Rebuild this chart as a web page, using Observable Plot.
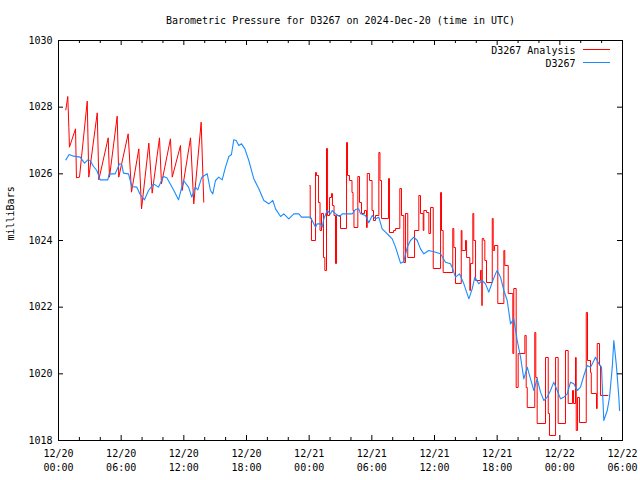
<!DOCTYPE html>
<html><head><meta charset="utf-8">
<script src="https://cdn.jsdelivr.net/npm/d3@7"></script>
<script src="https://cdn.jsdelivr.net/npm/@observablehq/plot@0.6"></script>
<style>body{margin:0;background:#fff}svg{display:block}</style>
</head><body><div id="chart"></div>
<script>
const titleText = "Barometric Pressure for D3267 on 2024-Dec-20 (time in UTC)";
const yLabel = "milliBars";
const seriesNames = ["D3267 Analysis", "D3267"];
const seriesColors = ["#ff0000", "#1a8cff"];
const startUTC = Date.UTC(2024, 11, 20, 0, 0);
const spanHours = 54;
const yTicks = [1018, 1020, 1022, 1024, 1026, 1028, 1030];

// D3267 station observations: hours since 2024-12-20 00:00 UTC, millibars
const stationHours = [0.70,1.02,1.44,2.08,2.49,2.81,3.04,3.35,3.67,3.99,4.72,4.85,5.43,5.84,6.06,6.22,6.70,7.02,7.50,7.82,8.23,8.62,9.10,9.57,10.05,10.37,11.01,11.49,11.97,12.45,12.76,13.09,13.34,13.72,14.24,14.55,14.77,15.03,15.35,15.67,15.99,16.31,16.56,16.78,17.01,17.26,17.52,17.84,18.22,18.70,19.18,19.66,20.14,20.52,20.78,21.26,21.57,22.05,22.53,23.01,23.27,24.13,24.29,24.61,24.77,25.09,25.25,25.40,25.73,26.04,26.21,26.52,26.91,27.16,28.12,28.44,28.75,28.92,29.39,29.71,30.04,30.35,30.67,30.99,31.31,31.63,31.95,32.27,32.75,33.06,33.39,33.70,34.02,34.35,34.66,34.98,35.46,36.10,36.58,37.05,37.53,37.75,38.01,38.39,38.81,39.29,39.61,39.86,40.24,40.57,40.88,41.20,41.53,41.84,42.00,42.32,42.64,42.96,43.28,43.59,43.92,44.24,44.55,44.88,45.19,45.51,45.83,46.15,46.47,46.79,47.11,47.42,47.75,48.07,48.38,48.71,49.02,49.34,49.66,49.98,50.30,50.62,50.94,51.42,51.73,51.99,52.21,52.54,52.76,53.02,53.17,53.40,53.65,53.72];
const stationValues = [1026.42,1026.58,1026.53,1026.50,1026.32,1026.42,1026.40,1026.22,1026.10,1025.82,1025.82,1026.00,1026.00,1026.30,1026.28,1026.02,1026.00,1025.62,1025.60,1025.38,1025.22,1025.50,1025.70,1025.60,1025.92,1025.88,1025.52,1025.22,1025.80,1025.60,1025.30,1025.60,1025.52,1025.90,1026.00,1025.50,1025.40,1025.80,1025.90,1025.82,1026.20,1026.52,1026.58,1027.02,1027.00,1026.85,1026.90,1026.75,1026.40,1025.85,1025.55,1025.20,1025.10,1025.20,1024.95,1024.72,1024.80,1024.65,1024.80,1024.80,1024.70,1024.70,1024.60,1024.40,1024.50,1024.50,1024.40,1024.65,1024.90,1024.80,1024.90,1024.80,1024.72,1024.80,1024.80,1024.93,1024.95,1024.80,1024.75,1024.53,1024.75,1024.65,1024.70,1024.35,1024.25,1024.15,1024.05,1023.80,1023.32,1023.37,1023.80,1024.00,1024.10,1024.00,1023.75,1023.60,1023.70,1023.65,1023.60,1023.35,1023.30,1023.15,1022.90,1023.00,1022.70,1022.25,1022.55,1022.90,1022.70,1022.80,1022.70,1022.45,1022.75,1023.00,1023.10,1022.90,1022.50,1022.20,1021.50,1021.65,1021.00,1020.50,1019.85,1020.20,1019.85,1019.50,1019.85,1019.45,1019.20,1019.30,1019.50,1019.75,1019.50,1019.25,1019.30,1019.40,1019.75,1019.70,1019.50,1019.60,1019.95,1020.25,1020.20,1020.50,1020.30,1020.20,1018.60,1018.90,1019.30,1020.20,1021.00,1020.30,1019.30,1018.90];

// D3267 Analysis, first run (12/20 morning)
const analysisAHours = [0.70,0.89,0.99,1.05,1.63,1.72,2.01,2.75,2.90,3.71,3.86,4.76,4.88,5.62,5.77,6.67,6.99,7.69,7.95,8.65,8.97,9.67,9.86,10.72,10.89,11.68,11.84,12.64,12.95,13.66,13.91];
const analysisAValues = [1027.92,1028.32,1027.40,1026.80,1027.35,1025.88,1025.90,1028.18,1025.90,1027.83,1025.82,1027.08,1025.90,1027.73,1025.90,1027.20,1025.45,1026.75,1024.95,1026.92,1025.42,1027.08,1025.70,1027.05,1025.90,1026.85,1025.50,1027.08,1025.10,1027.55,1025.15];

// D3267 Analysis, second run (12/21 00:00 onwards), held values
const analysisBHours = [24.06,24.10,24.22,24.61,24.70,24.89,25.04,25.18,25.37,25.50,25.66,25.76,25.95,26.14,26.23,26.38,26.52,26.62,27.00,27.58,27.67,27.86,28.10,28.20,28.29,28.66,28.82,29.01,29.30,29.49,29.56,29.78,30.02,30.16,30.35,30.67,30.78,30.93,31.60,31.69,32.08,32.27,32.68,32.84,33.06,33.22,33.44,34.09,34.50,34.66,34.92,34.98,35.24,35.46,35.62,35.88,36.58,36.67,36.83,37.75,37.85,38.01,38.56,38.63,38.97,39.07,39.38,39.45,39.67,39.76,39.93,40.40,40.53,40.57,40.72,40.82,40.98,41.53,41.62,41.75,42.06,42.64,42.73,43.06,43.50,43.59,43.82,44.01,44.65,44.78,44.88,45.60,45.70,45.83,46.63,46.89,47.01,47.59,47.84,48.54,48.80,49.21,49.31,49.50,49.57,49.69,49.88,50.53,50.65,50.94,51.01,51.51,51.58,51.80,51.90,52.63];
const analysisBValues = [1025.65,1024.66,1024.00,1026.04,1025.95,1025.14,1024.30,1024.81,1023.49,1023.10,1026.76,1024.75,1025.29,1025.41,1025.05,1024.75,1023.31,1024.75,1024.36,1026.94,1025.95,1025.80,1025.44,1024.90,1024.39,1025.92,1025.14,1024.81,1024.90,1024.39,1026.01,1025.80,1024.90,1024.60,1024.75,1026.64,1025.80,1024.66,1025.86,1024.24,1024.30,1024.36,1025.56,1024.75,1023.34,1024.81,1023.49,1024.30,1025.35,1024.81,1024.30,1024.90,1024.84,1024.21,1024.99,1023.16,1025.44,1024.30,1023.04,1024.36,1023.79,1022.71,1024.30,1023.70,1024.00,1023.49,1022.50,1023.31,1024.81,1024.00,1022.80,1023.10,1022.05,1024.06,1024.00,1023.40,1022.74,1024.66,1023.70,1023.85,1022.11,1023.70,1023.25,1022.41,1020.61,1022.56,1019.59,1020.61,1021.15,1019.59,1018.99,1021.24,1019.89,1018.51,1020.49,1018.81,1018.15,1020.49,1018.51,1020.70,1019.11,1019.50,1019.11,1020.49,1018.30,1019.29,1018.54,1021.84,1020.40,1020.04,1019.41,1018.96,1020.91,1020.25,1019.35,1019.35];

const toDate = h => new Date(startUTC + h * 3600e3);
const zip = (hs, vs) => hs.map((h, i) => ({t: toDate(h), v: vs[i]}));
const station = zip(stationHours, stationValues);
const analysisA = zip(analysisAHours, analysisAValues);
const analysisB = zip(analysisBHours, analysisBValues);

const x0 = toDate(0), x1 = toDate(spanHours);
const majorX = d3.utcHour.every(6).range(x0, new Date(+x1 + 1));
const minorX = d3.utcHour.every(2).range(x0, new Date(+x1 + 1)).filter(d => d.getUTCHours() % 6 !== 0);
const fmt = d3.utcFormat("%m/%d\n%H:%M");

const W = 640, H = 480, mL = 58, mR = 18, mT = 40, mB = 40;
const fw = W - mL - mR, fh = H - mT - mB;
const major = 5, minor = 3;

const plot = Plot.plot({
  width: W, height: H,
  marginLeft: mL, marginRight: mR, marginTop: mT, marginBottom: mB,
  style: {fontFamily: "'DejaVu Sans Mono', monospace", fontSize: "10px", background: "#fff", overflow: "visible"},
  x: {type: "utc", domain: [x0, x1], axis: null},
  y: {domain: [1018, 1030], axis: null},
  marks: [
    Plot.line(analysisA, {x: "t", y: "v", stroke: seriesColors[0], strokeWidth: 1}),
    Plot.line(analysisB, {x: "t", y: "v", stroke: seriesColors[0], strokeWidth: 1, curve: "step-after"}),
    Plot.line(station, {x: "t", y: "v", stroke: seriesColors[1], strokeWidth: 1.1}),
    Plot.ruleX(majorX, {x: d => d, insetTop: fh - major, stroke: "#000"}),
    Plot.ruleX(majorX, {x: d => d, insetBottom: fh - major, stroke: "#000"}),
    Plot.ruleX(minorX, {x: d => d, insetTop: fh - minor, stroke: "#000"}),
    Plot.ruleX(minorX, {x: d => d, insetBottom: fh - minor, stroke: "#000"}),
    Plot.ruleY(yTicks, {y: d => d, insetRight: fw - major, stroke: "#000"}),
    Plot.ruleY(yTicks, {y: d => d, insetLeft: fw - major, stroke: "#000"}),
    Plot.frame({stroke: "#000"}),
    Plot.text(yTicks, {y: d => d, frameAnchor: "left", textAnchor: "end", lineAnchor: "middle", dx: -6, text: d => String(d), fill: "#000"}),
    Plot.text(majorX, {x: d => d, frameAnchor: "bottom", lineAnchor: "top", dy: 7, lineHeight: 1.35, text: d => fmt(d), fill: "#000"}),
    Plot.text([titleText], {frameAnchor: "top", lineAnchor: "middle", dy: -20, text: d => d, fill: "#000"}),
    Plot.text([yLabel], {frameAnchor: "left", lineAnchor: "middle", rotate: -90, dx: -48, text: d => d, fill: "#000"}),
    Plot.text([seriesNames[0]], {frameAnchor: "top-right", textAnchor: "end", lineAnchor: "middle", dx: -47, dy: 10, text: d => d, fill: "#000"}),
    Plot.text([seriesNames[1]], {frameAnchor: "top-right", textAnchor: "end", lineAnchor: "middle", dx: -47, dy: 23, text: d => d, fill: "#000"})
  ]
});
// legend sample lines
const svg = d3.select(plot);
[0, 1].forEach(i => {
  svg.append("line")
    .attr("x1", W - mR - 39).attr("x2", W - mR - 12)
    .attr("y1", mT + 9.5 + i * 13).attr("y2", mT + 9.5 + i * 13)
    .attr("stroke", seriesColors[i]).attr("stroke-width", 1);
});
document.getElementById("chart").append(plot);
</script></body></html>
